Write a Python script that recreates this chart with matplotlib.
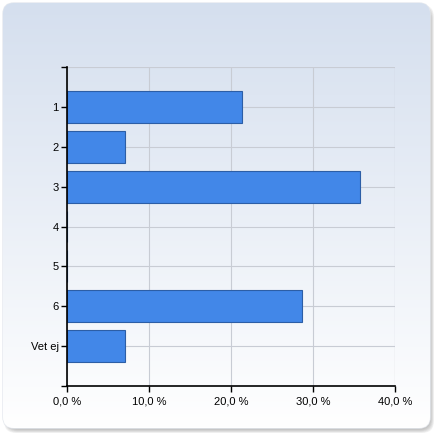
import numpy as np
import matplotlib
matplotlib.use("Agg")
import matplotlib.pyplot as plt
from matplotlib.patches import FancyBboxPatch

plt.rcParams['font.family'] = ['Liberation Sans', 'DejaVu Sans']

# data
categories = ["1", "2", "3", "4", "5", "6", "Vet ej"]
values = [21.4, 7.1, 35.7, 0.0, 0.0, 28.6, 7.1]
xticks = [0, 10, 20, 30, 40]
xlabels = ["0,0 %", "10,0 %", "20,0 %", "30,0 %", "40,0 %"]

fig = plt.figure(figsize=(4.41, 4.41), dpi=100)
fig.patch.set_facecolor("white")

# background panel with soft shadow (bottom/right) and gradient
bg = fig.add_axes([0, 0, 1, 1])
bg.set_xlim(0, 441)
bg.set_ylim(441, 0)
bg.axis("off")
for i in range(6):
    sh = FancyBboxPatch((3 + 4 - i * 0.6, 3 + 5 - i * 0.6), 427 - 3 + i * 1.2, 425 - 3 + i * 1.2,
                        boxstyle="round,pad=0,rounding_size=12",
                        fc=(0.45, 0.45, 0.45, 0.08), ec="none")
    bg.add_patch(sh)
panel = FancyBboxPatch((3, 3), 427, 425, boxstyle="round,pad=0,rounding_size=11",
                       fc="white", ec="#e4e8ee", lw=1)
bg.add_patch(panel)
top = np.array([0.835, 0.875, 0.935])
bot = np.array([1.0, 1.0, 1.0])
t = np.linspace(0, 1, 256)[:, None, None]
grad = top * (1 - t) + bot * t
grad = np.repeat(grad, 2, axis=1)
im = bg.imshow(grad, extent=(3, 430, 428, 3), aspect="auto", zorder=2)
im.set_clip_path(panel)

# chart
ax = fig.add_axes([67 / 441, 55 / 441, 328 / 441, 319 / 441])
ax.patch.set_alpha(0)
y = np.arange(len(categories))
ax.barh(y, values, height=0.8, color="#4287e8", edgecolor="#2c5ea6", lw=0.8, zorder=3)
ax.set_ylim(len(categories), -1)
ax.set_xlim(0, 40)
ax.set_yticks(y)
ax.set_yticklabels(categories)
ax.set_yticks([-1, len(categories)], minor=True)
ax.set_xticks(xticks)
ax.set_xticklabels(xlabels)
ax.tick_params(axis="both", which="both", direction="out", length=4, width=1,
               labelsize=8, colors="black")
ax.tick_params(axis="y", which="major", pad=2)
ax.grid(True, color="#c8ccd4", lw=0.8, zorder=0)
ax.axhline(-1, color="#c8ccd4", lw=0.8, zorder=0)
ax.axvline(40, color="#c8ccd4", lw=0.8, zorder=0)
for s in ["top", "right"]:
    ax.spines[s].set_visible(False)
for s in ["left", "bottom"]:
    ax.spines[s].set_linewidth(1.2)
    ax.spines[s].set_zorder(4)

fig.savefig("out.png", dpi=100)
